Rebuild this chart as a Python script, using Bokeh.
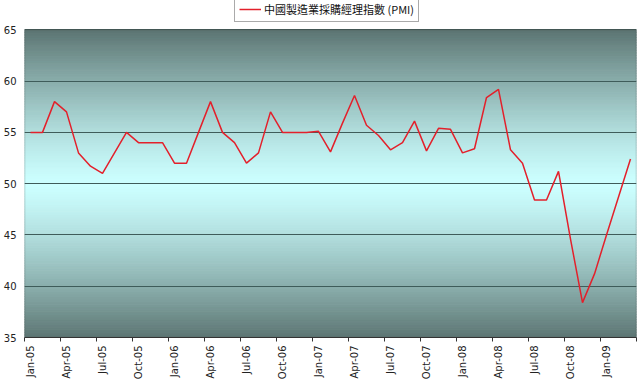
import math
from bokeh.plotting import figure
from bokeh.models import (Range1d, FixedTicker, BoxAnnotation, Legend, LegendItem,
                          ColumnDataSource)
from bokeh.embed import file_html
from bokeh.resources import INLINE

# ---- data ----
series_name = "中國製造業採購經理指數 (PMI)"
tick_labels = ["Jan-05", "Apr-05", "Jul-05", "Oct-05",
               "Jan-06", "Apr-06", "Jul-06", "Oct-06",
               "Jan-07", "Apr-07", "Jul-07", "Oct-07",
               "Jan-08", "Apr-08", "Jul-08", "Oct-08",
               "Jan-09"]
pmi_2005 = [55, 55, 58, 57, 53, 51.7, 51, 53, 55, 54, 54, 54]
pmi_2006 = [52, 52, 55, 58, 55, 54, 52, 53, 57, 55, 55, 55]
pmi_2007 = [55.1, 53.1, 55.9, 58.6, 55.7, 54.7, 53.3, 54.0, 56.1, 53.2, 55.4, 55.3]
pmi_2008 = [53.0, 53.4, 58.4, 59.2, 53.3, 52.0, 48.4, 48.4, 51.2, 44.6, 38.4, 41.2]
pmi_2009 = [45.0, 48.7, 52.4]
y_ticks = [35, 40, 45, 50, 55, 60, 65]

values = pmi_2005 + pmi_2006 + pmi_2007 + pmi_2008 + pmi_2009
idx = list(range(len(values)))
source = ColumnDataSource(dict(x=idx, y=values))

y_lo, y_hi = 35, 65
# headroom above the plot area for the legend (layout only)
frame_h = 339
top_gap_px = 29.5
extra = top_gap_px * (y_hi - y_lo) / (frame_h - top_gap_px)

p = figure(width=640, height=382, output_backend="svg", toolbar_location=None,
           x_range=Range1d(-0.5, len(values) - 0.5),
           y_range=Range1d(y_lo, y_hi + extra),
           min_border_left=23, min_border_right=4, min_border_top=0, min_border_bottom=43)
p.background_fill_color = "white"
p.border_fill_color = "white"
p.outline_line_color = None

# ---- gradient background (dark edges, light cyan centre) ----
dark = (92, 117, 114)
light = (204, 255, 255)
n_strips = 120
step = (y_hi - y_lo) / n_strips
centre = (y_hi + y_lo) / 2
half = (y_hi - y_lo) / 2
for k in range(n_strips):
    b = y_lo + k * step
    t = b + step
    mid = (b + t) / 2
    f = (abs(mid - centre) / half) ** 1.3
    c = tuple(int(round(light[j] + (dark[j] - light[j]) * f)) for j in range(3))
    col = "#%02x%02x%02x" % c
    p.add_layout(BoxAnnotation(bottom=b, top=t, fill_color=col, fill_alpha=1,
                               line_color=col, line_alpha=1, line_width=1,
                               level="image"))

# plot-area border
p.add_layout(BoxAnnotation(bottom=y_lo, top=y_hi, fill_alpha=0,
                           line_color="#4a4a4a", line_width=1.5, level="underlay"))

# ---- grid ----
p.xgrid.visible = False
p.ygrid.ticker = FixedTicker(ticks=y_ticks)
p.ygrid.grid_line_color = "#3f5c5a"
p.ygrid.grid_line_width = 1

# ---- line ----
r = p.line("x", "y", source=source, line_color="#e3202b", line_width=1.5)

# ---- axes ----
major = [3 * k for k in range(len(tick_labels))]
p.xaxis.ticker = FixedTicker(ticks=major,
                             minor_ticks=[3 * k - 0.5 for k in range(len(values) // 3 + 1)])
p.xaxis.major_label_overrides = {m: lab for m, lab in zip(major, tick_labels)}
p.xaxis.major_label_orientation = math.pi / 2
p.xaxis.major_tick_in = 0
p.xaxis.major_tick_out = 0
p.xaxis.minor_tick_in = 0
p.xaxis.minor_tick_out = 4
p.xaxis.minor_tick_line_color = "#333333"
p.xaxis.major_label_standoff = 4
p.xaxis.axis_line_color = "#333333"

p.yaxis.ticker = FixedTicker(ticks=y_ticks)
p.yaxis.major_tick_in = 0
p.yaxis.major_tick_out = 0
p.yaxis.minor_tick_out = 0
p.yaxis.major_label_standoff = 8
p.yaxis.axis_line_color = None

for ax in (p.xaxis[0], p.yaxis[0]):
    ax.major_label_text_font = "DejaVu Sans"
    ax.major_label_text_font_size = "10px"
    ax.major_label_text_color = "#222222"

# ---- legend (inside the frame's headroom) ----
legend = Legend(items=[LegendItem(label=series_name, renderers=[r])],
                location=(210, 315), orientation="horizontal")
legend.label_text_font = "Noto Sans CJK TC"
legend.label_text_font_size = "11px"
legend.label_text_color = "#111111"
legend.label_height = 12
legend.glyph_width = 22
legend.glyph_height = 12
legend.label_standoff = 3
legend.padding = 4
legend.spacing = 0
legend.margin = 0
legend.border_line_color = "#555555"
legend.border_line_width = 1
legend.background_fill_color = "white"
legend.background_fill_alpha = 1
p.add_layout(legend, "center")

open("out.html", "w").write(file_html(p, INLINE))
